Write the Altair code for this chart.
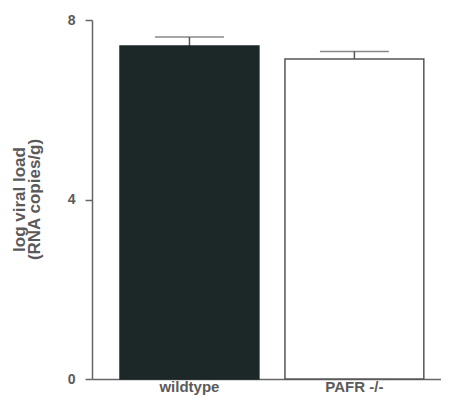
import altair as alt
import pandas as pd

groups = ["wildtype", "PAFR -/-"]
means = [7.42, 7.13]
sems = [0.20, 0.17]
fills = ["#1c2727", "#ffffff"]
strokes = ["#1c2727", "#555555"]

df = pd.DataFrame({"group": groups, "mean": means, "sem": sems})
df["top"] = df["mean"] + df["sem"]

FONT = "Liberation Sans"
GRAY = "#5a5a5a"

xenc = alt.X(
    "group:N",
    sort=groups,
    scale=alt.Scale(paddingInner=0.158, paddingOuter=0.137, align=0.62),
    axis=alt.Axis(
        title=None, ticks=False, labelAngle=0, labelAlign="center", labelFontSize=15,
        labelFontWeight="bold", labelColor=GRAY, labelFont=FONT,
        labelPadding=7, domainColor="#666666", domainWidth=1.5,
    ),
)

yscale = alt.Scale(domain=[0, 8], nice=False)
yaxis = alt.Axis(
    values=[0, 4, 8], grid=False, tickSize=7, tickColor="#666666",
    tickWidth=1.5, domainColor="#666666", domainWidth=1.5,
    labelFontSize=14, labelFontWeight="bold", labelColor=GRAY, labelFont=FONT,
    labelPadding=10,
    title=["log viral load", "(RNA copies/g)"], titleFontSize=17,
    titleFontWeight="bold", titleColor=GRAY, titleFont=FONT,
    titleX=-64, titleY=179, titleLineHeight=15,
)

base = alt.Chart(df)

bars = base.mark_bar(strokeWidth=1.5).encode(
    x=xenc,
    y=alt.Y("mean:Q", scale=yscale, axis=yaxis),
    fill=alt.Fill("group:N", scale=alt.Scale(domain=groups, range=fills), legend=None),
    stroke=alt.Stroke("group:N", scale=alt.Scale(domain=groups, range=strokes), legend=None),
)

err = base.mark_rule(color="#555555", strokeWidth=1.5).encode(
    x=alt.X("group:N", sort=groups),
    y="mean:Q",
    y2="top:Q",
)

caps = base.mark_tick(color="#555555", size=69, thickness=1.5).encode(
    x=alt.X("group:N", sort=groups),
    y="top:Q",
)

chart = alt.layer(err, caps, bars).properties(
    width=349, height=359,
    autosize=alt.AutoSizeParams(type="none"),
    padding={"left": 84, "top": 12, "right": 0, "bottom": 24},
).configure_view(stroke=None)

chart.save("out.html", embed_options={"renderer": "svg", "actions": False})
